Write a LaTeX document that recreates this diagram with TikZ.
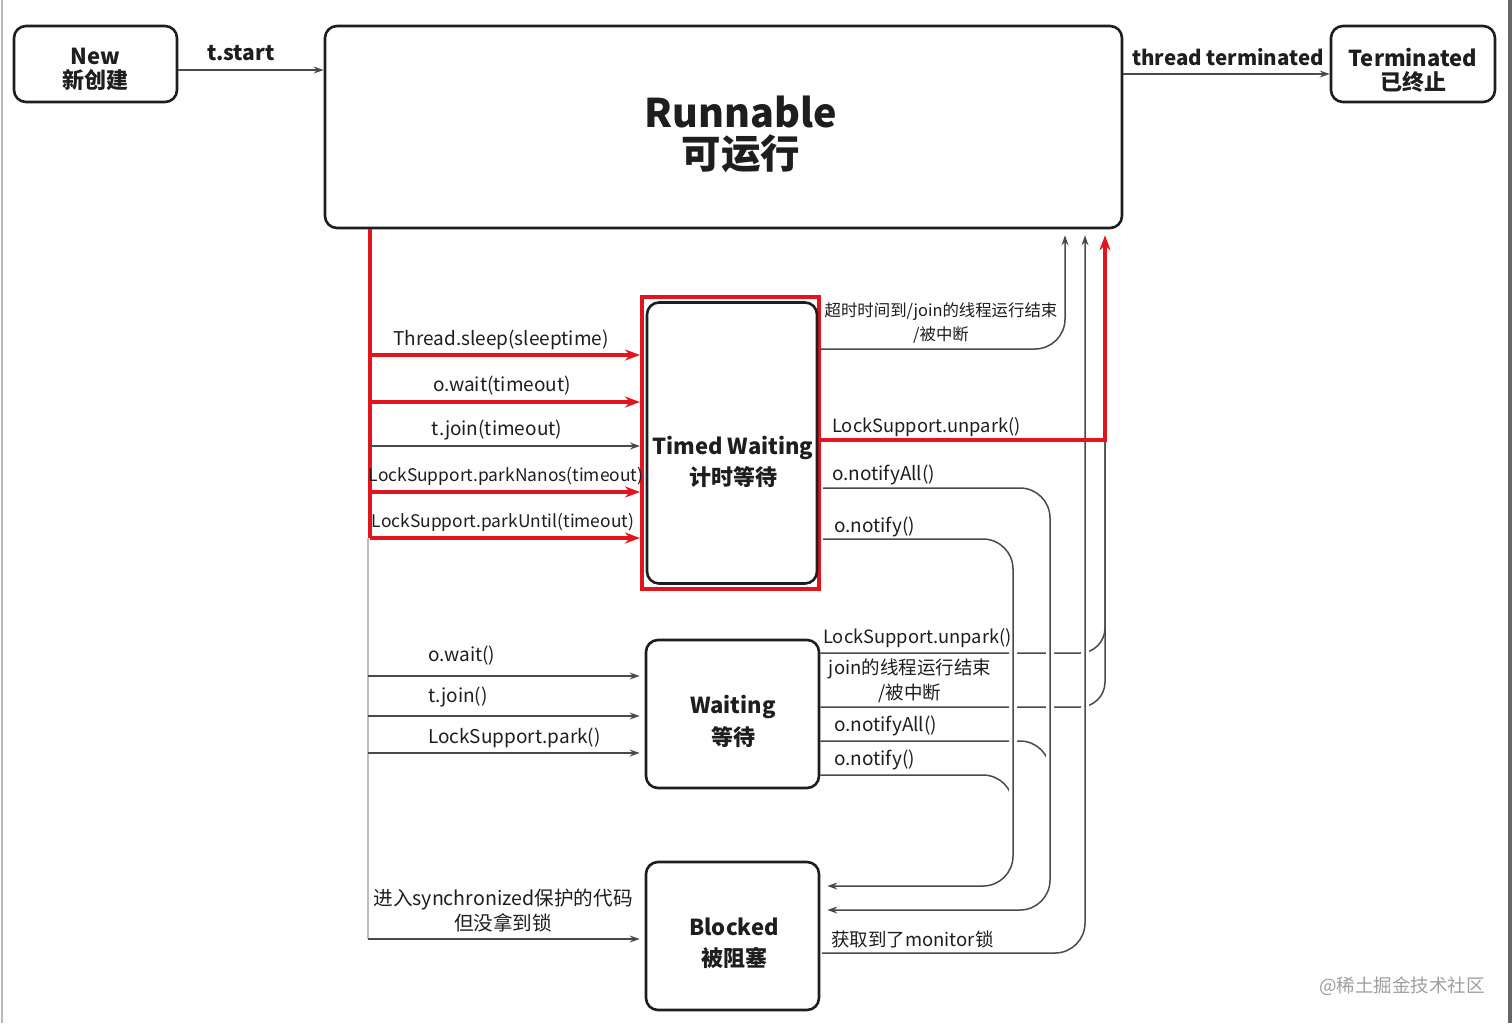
\documentclass[tikz,border=0pt]{standalone}
\usepackage{fontspec}
\setmainfont{Noto Sans CJK SC}
\usetikzlibrary{arrows.meta}
\definecolor{ink}{HTML}{1E1E1E}
\definecolor{wire}{HTML}{4A4A4A}
\definecolor{hl}{HTML}{E3141E}
\definecolor{busgray}{HTML}{BDBDBD}
\begin{document}
\begin{tikzpicture}[x=1pt,y=-1pt,
  state/.style={draw=ink, line width=2.6pt, rounded corners=12pt, inner sep=0pt},
  stext/.style={inner sep=0pt, align=center, text=ink, font=\bfseries\fontsize{22}{24}\selectfont},
  wireline/.style={draw=wire, line width=1.5pt},
  wirearrow/.style={wireline, -{Stealth[length=10pt,width=7pt]}},
  redline/.style={draw=hl, line width=3.6pt},
  redarrow/.style={redline, -{Stealth[length=15pt,width=11pt]}},
  halo/.style={preaction={draw=white, line width=8pt, -}},
  elabel/.style={inner sep=0pt, text=ink, font=\fontsize{19}{24}\selectfont, align=center},
  lsfont/.style={font=\fontsize{18.3}{22}\selectfont},
  small/.style={font=\fontsize{17.4}{22}\selectfont},
  tiny/.style={font=\fontsize{16.4}{24}\selectfont},
  toplabel/.style={inner sep=0pt, text=ink, font=\bfseries\fontsize{21}{24}\selectfont},
]
\fill[white] (0,0) rectangle (1512,1023);
\path[use as bounding box] (0,0) rectangle (1512,1023);
\draw[gray!55, line width=2pt] (1.5,0) -- (1.5,1023);
\draw[gray!80!black, line width=3.5pt] (1510,0) -- (1510,1023);

% states
\node[state, minimum width=163pt, minimum height=76pt] (new) at (95.5,64) {};
\node[stext] (newt) at (95.5,69) {New\\新创建};
\node[state, minimum width=797pt, minimum height=202pt] (run) at (723.5,127) {};
\node[stext, font=\bfseries\fontsize{39.5}{41}\selectfont] (runt) at (741,134) {Runnable\\可运行};
\node[state, minimum width=164pt, minimum height=76pt] (term) at (1413,64) {};
\node[stext] (termt) at (1413,70) {Terminated\\已终止};
\node[draw=hl, line width=4pt, minimum width=177pt, minimum height=292pt, inner sep=0pt] (twr) at (730.5,443) {};
\node[state, minimum width=170pt, minimum height=281pt] (tw) at (732,443) {};
\node[stext, font=\bfseries\fontsize{22}{31}\selectfont] (twt) at (733,462) {Timed Waiting\\计时等待};
\node[state, minimum width=173pt, minimum height=148pt] (wt) at (732.5,714) {};
\node[stext, font=\bfseries\fontsize{22}{32}\selectfont] (wtt) at (733,721) {Waiting\\等待};
\node[state, minimum width=173pt, minimum height=148pt] (blk) at (732.5,936) {};
\node[stext, font=\bfseries\fontsize{22}{31}\selectfont] (blkt) at (734,943) {Blocked\\被阻塞};

% top connectors
\draw[wirearrow] ([yshift=-6pt]new.east) -- ([yshift=-6pt]new.east -| run.west);
\draw[wirearrow] ([yshift=-10pt]term.west -| run.east) -- ([yshift=-10pt]term.west);

% left bus
\coordinate (b0) at (370,229);
\coordinate (b1) at (370,538);
\coordinate (b2) at (368,538);
\coordinate (b3) at (368,939);
\coordinate (s1) at (370,355);
\coordinate (s2) at (370,402);
\coordinate (s3) at (370,446);
\coordinate (s4) at (370,492);
\coordinate (w1) at (368,676);
\coordinate (w2) at (368,716);
\coordinate (w3) at (368,753);
\draw[draw=busgray, line width=2pt] (b2) -- (b3);
\draw[redline] (b0) -- (b1);
\draw[redarrow] (s1) -- (s1 -| twr.west);
\draw[redarrow] (s2) -- (s2 -| twr.west);
\draw[wirearrow] (s3) -- (s3 -| twr.west);
\draw[redarrow] (s4) -- (s4 -| twr.west);
\draw[redarrow] (b1) -- (b1 -| twr.west);
\draw[wirearrow, shorten >=5pt] (w1) -- (w1 -| wt.west);
\draw[wirearrow, shorten >=5pt] (w2) -- (w2 -| wt.west);
\draw[wirearrow, shorten >=5pt] (w3) -- (w3 -| wt.west);
\draw[wirearrow, shorten >=5pt] (b3) -- (b3 -| blk.west);

% right connectors
\coordinate (cA) at (1065,349);
\coordinate (cB) at (1105,440);
\coordinate (cC1) at (1050,488);
\coordinate (cC2) at (1050,910);
\coordinate (cD1) at (1013,539);
\coordinate (cD2) at (1013,886);
\coordinate (cE) at (1085,953);
\coordinate (cF) at (1105,653);
\coordinate (cG) at (1105,707);
\coordinate (cH1) at (1050,741);
\coordinate (cH2) at (1050,800);
\coordinate (cI1) at (1013,775);
\coordinate (cI2) at (1013,830);

\draw[wireline, rounded corners=25pt] (wt.east |- cF) -- (cF) -- (cB);
\draw[wireline, rounded corners=25pt] (wt.east |- cG) -- (cG) -- (cB);
\draw[wireline, rounded corners=30pt] (wt.east |- cH1) -- (cH1) -- (cH2);
\draw[wireline, rounded corners=30pt] (wt.east |- cI1) -- (cI1) -- (cI2);
\draw[wirearrow, rounded corners=30pt, shorten >=6pt] (twr.east |- cA) -- (cA) -- (cA |- run.south);
\draw[wirearrow, halo, rounded corners=30pt, shorten <=2pt, shorten >=7pt] (twr.east |- cC1) -- (cC1) -- (cC2) -- (cC2 -| blk.east);
\draw[wirearrow, halo, rounded corners=30pt, shorten <=2pt, shorten >=7pt] (twr.east |- cD1) -- (cD1) -- (cD2) -- (cD2 -| blk.east);
\draw[wirearrow, halo, rounded corners=30pt, shorten <=1.5pt, shorten >=6pt] (blk.east |- cE) -- (cE) -- (cE |- run.south);
\draw[redarrow, shorten >=6pt] (twr.east |- cB) -- (cB) -- (cB |- run.south);

% labels
\node[toplabel] (lst) at (241,53) {t.start};
\node[toplabel, font=\bfseries\fontsize{20.5}{24}\selectfont] (ltt) at (1228,57) {thread terminated};
\node[elabel] (l1) at (501,340) {Thread.sleep(sleeptime)};
\node[elabel] (l2) at (502,386) {o.wait(timeout)};
\node[elabel] (l3) at (497,430) {t.join(timeout)};
\node[elabel, small] (l4) at (506,476) {LockSupport.parkNanos(timeout)};
\node[elabel, small] (l5) at (503,522) {LockSupport.parkUntil(timeout)};
\node[elabel, anchor=west] (l6) at (428,656) {o.wait()};
\node[elabel, anchor=west] (l7) at (428,697) {t.join()};
\node[elabel, anchor=west] (l8) at (428,738) {LockSupport.park()};
\node[elabel, font=\fontsize{19.6}{25}\selectfont] (l9) at (503,911) {进入synchronized保护的代码\\但没拿到锁};
\node[elabel, tiny] (r1) at (941,323) {超时时间到/join的线程运行结束\\/被中断};
\node[elabel, lsfont, anchor=west] (r2) at (832,427) {LockSupport.unpark()};
\node[elabel, anchor=west] (r3) at (832,475) {o.notifyAll()};
\node[elabel, anchor=west] (r4) at (834,527) {o.notify()};
\node[elabel, lsfont, anchor=west] (r5) at (823,638) {LockSupport.unpark()};
\node[elabel, font=\fontsize{18.5}{25}\selectfont] (r6) at (910,681) {join的线程运行结束\\/被中断};
\node[elabel, anchor=west] (r7) at (834,726) {o.notifyAll()};
\node[elabel, anchor=west] (r8) at (834,760) {o.notify()};
\node[elabel, font=\fontsize{18.5}{22}\selectfont, anchor=west] (r9) at (831,939) {获取到了monitor锁};
\node[inner sep=0pt, anchor=east, text=gray!75, font=\fontsize{18.5}{20}\selectfont] (wm) at (1485,986) {@稀土掘金技术社区};
\end{tikzpicture}
\end{document}
